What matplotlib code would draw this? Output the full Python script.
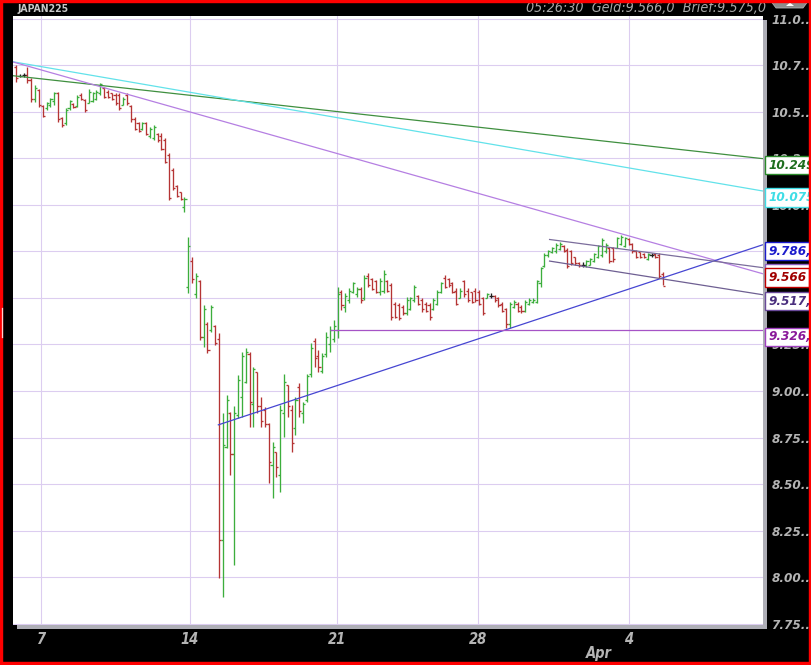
import numpy as np
import matplotlib
matplotlib.use("Agg")
import matplotlib.pyplot as plt
from matplotlib.patches import Rectangle, Polygon
from matplotlib.lines import Line2D
from matplotlib.transforms import blended_transform_factory
from matplotlib import font_manager

# ---------------- data (JAPAN225, 3-hour bars, prices in thousands) ----------------
opens = [10.74, 10.695, 10.70, 10.70, 10.67, 10.57, 10.62, 10.53, 10.52, 10.54,
         10.56, 10.60, 10.47, 10.44, 10.52, 10.545, 10.53, 10.59, 10.565, 10.55,
         10.56, 10.57, 10.60, 10.63, 10.61, 10.60, 10.59, 10.59, 10.54, 10.59,
         10.53, 10.46, 10.44, 10.41, 10.44, 10.37, 10.36, 10.38, 10.37, 10.35,
         10.27, 10.19, 10.10, 10.07, 9.99,
         9.56, 9.70, 9.52, 9.59, 9.29,
         9.36, 9.33, 9.35, 9.28, 8.20, 8.70, 8.88, 8.66, 8.87, 8.97,
         9.05, 9.20, 8.93, 9.10, 8.92, 8.90, 8.82, 8.60, 8.67, 8.55,
         8.88, 9.03, 8.90, 8.80, 9.02, 8.88, 8.95, 9.09, 9.27, 9.19,
         9.11, 9.20, 9.25, 9.28, 9.33,
         9.53, 9.45, 9.49, 9.53, 9.52,
         9.55, 9.50, 9.62, 9.60, 9.59, 9.53, 9.54, 9.59, 9.57, 9.47,
         9.46, 9.45, 9.42, 9.44, 9.49, 9.51, 9.49, 9.47, 9.46, 9.44,
         9.47, 9.53, 9.61, 9.60, 9.58, 9.54, 9.50, 9.59, 9.54, 9.53,
         9.54, 9.53, 9.50, 9.50, 9.51, 9.51, 9.50, 9.47, 9.44, 9.36,
         9.45, 9.47, 9.45, 9.43, 9.47, 9.48,
         9.48, 9.58, 9.67, 9.73,
         9.745, 9.75, 9.765, 9.78, 9.76, 9.75, 9.72, 9.69, 9.68, 9.675,
         9.68, 9.70, 9.72, 9.73, 9.75, 9.77, 9.77, 9.77, 9.79, 9.78,
         9.815, 9.79, 9.75, 9.745, 9.735, 9.71, 9.73, 9.735, 9.73, 9.63]

highs = [10.753, 10.704, 10.708, 10.744, 10.681, 10.645, 10.622, 10.537, 10.555, 10.574,
         10.609, 10.609, 10.475, 10.520, 10.564, 10.546, 10.591, 10.600, 10.568, 10.622,
         10.609, 10.618, 10.657, 10.636, 10.618, 10.604, 10.600, 10.600, 10.582, 10.600,
         10.537, 10.475, 10.448, 10.448, 10.448, 10.421, 10.430, 10.385, 10.385, 10.359,
         10.278, 10.197, 10.108, 10.071, 10.045,
         9.830, 9.719, 9.636, 9.597, 9.462,
         9.373, 9.462, 9.355, 9.310, 8.880, 8.979, 8.889, 8.919, 9.086, 9.211,
         9.230, 9.211, 9.131, 9.104, 8.969, 8.916, 8.826, 8.727, 8.674, 8.925,
         9.091, 9.032, 8.925, 8.969, 9.041, 8.943, 9.091, 9.256, 9.283, 9.220,
         9.203, 9.319, 9.349, 9.382, 9.561,
         9.543, 9.525, 9.552, 9.588, 9.561,
         9.561, 9.624, 9.633, 9.606, 9.597, 9.606, 9.650, 9.597, 9.579, 9.480,
         9.472, 9.462, 9.507, 9.507, 9.570, 9.516, 9.498, 9.480, 9.472, 9.498,
         9.543, 9.588, 9.624, 9.606, 9.588, 9.552, 9.552, 9.597, 9.552, 9.534,
         9.552, 9.543, 9.507, 9.525, 9.525, 9.516, 9.507, 9.480, 9.444, 9.480,
         9.489, 9.480, 9.462, 9.489, 9.498, 9.498,
         9.597, 9.668, 9.740, 9.758,
         9.776, 9.794, 9.803, 9.785, 9.767, 9.758, 9.722, 9.695, 9.695, 9.704,
         9.713, 9.740, 9.785, 9.821, 9.794, 9.776, 9.776, 9.830, 9.839, 9.830,
         9.821, 9.794, 9.758, 9.749, 9.740, 9.740, 9.740, 9.740, 9.740, 9.641]

lows = [10.660, 10.687, 10.690, 10.655, 10.555, 10.555, 10.528, 10.475, 10.511, 10.528,
        10.537, 10.448, 10.421, 10.432, 10.511, 10.520, 10.528, 10.564, 10.501, 10.546,
        10.555, 10.564, 10.591, 10.574, 10.574, 10.564, 10.537, 10.511, 10.537, 10.537,
        10.448, 10.403, 10.394, 10.403, 10.376, 10.359, 10.349, 10.340, 10.296, 10.224,
        10.027, 10.081, 10.045, 10.027, 9.964,
        9.525, 9.579, 9.498, 9.274, 9.238,
        9.203, 9.319, 9.248, 7.993, 7.894, 8.692, 8.548, 8.065, 8.853, 8.862,
        9.041, 8.808, 8.808, 8.880, 8.808, 8.808, 8.504, 8.423, 8.539, 8.459,
        8.754, 8.862, 8.674, 8.763, 8.862, 8.826, 8.943, 9.077, 9.131, 9.104,
        9.095, 9.184, 9.210, 9.263, 9.285,
        9.435, 9.426, 9.472, 9.525, 9.507,
        9.472, 9.489, 9.561, 9.543, 9.525, 9.516, 9.525, 9.534, 9.382, 9.391,
        9.382, 9.409, 9.409, 9.435, 9.480, 9.462, 9.426, 9.426, 9.382, 9.435,
        9.462, 9.525, 9.552, 9.561, 9.525, 9.462, 9.498, 9.507, 9.480, 9.472,
        9.480, 9.462, 9.409, 9.498, 9.498, 9.480, 9.453, 9.426, 9.337, 9.337,
        9.444, 9.426, 9.418, 9.426, 9.462, 9.472,
        9.472, 9.561, 9.668, 9.722,
        9.740, 9.740, 9.758, 9.749, 9.660, 9.677, 9.677, 9.668, 9.668, 9.668,
        9.677, 9.695, 9.713, 9.722, 9.740, 9.686, 9.695, 9.767, 9.785, 9.776,
        9.785, 9.740, 9.713, 9.713, 9.713, 9.704, 9.722, 9.713, 9.606, 9.570]

closes = [10.68, 10.695, 10.70, 10.67, 10.57, 10.63, 10.54, 10.48, 10.55, 10.57,
          10.60, 10.46, 10.43, 10.51, 10.56, 10.525, 10.58, 10.57, 10.51, 10.61,
          10.60, 10.61, 10.65, 10.58, 10.58, 10.57, 10.55, 10.52, 10.57, 10.55,
          10.46, 10.41, 10.40, 10.44, 10.38, 10.41, 10.42, 10.35, 10.30, 10.23,
          10.04, 10.09, 10.05, 10.03, 10.03,
          9.78, 9.60, 9.62, 9.29, 9.44,
          9.22, 9.45, 9.26, 8.20, 8.71, 8.95, 8.66, 8.88, 9.06, 9.19,
          9.21, 8.94, 9.12, 8.92, 8.84, 8.82, 8.62, 8.70, 8.59, 8.90,
          9.05, 8.92, 8.72, 8.95, 8.89, 8.93, 9.08, 9.23, 9.18, 9.13,
          9.19, 9.29, 9.33, 9.35, 9.52,
          9.46, 9.51, 9.54, 9.58, 9.55,
          9.49, 9.61, 9.57, 9.55, 9.53, 9.59, 9.63, 9.54, 9.40, 9.40,
          9.39, 9.42, 9.49, 9.50, 9.56, 9.47, 9.44, 9.43, 9.40, 9.49,
          9.53, 9.58, 9.56, 9.57, 9.53, 9.47, 9.54, 9.52, 9.49, 9.48,
          9.49, 9.47, 9.42, 9.52, 9.51, 9.49, 9.46, 9.43, 9.36, 9.47,
          9.48, 9.43, 9.43, 9.48, 9.49, 9.49,
          9.59, 9.66, 9.73, 9.75,
          9.77, 9.785, 9.79, 9.755, 9.67, 9.69, 9.69, 9.675, 9.68, 9.70,
          9.71, 9.735, 9.78, 9.81, 9.785, 9.70, 9.71, 9.82, 9.83, 9.82,
          9.79, 9.75, 9.72, 9.72, 9.72, 9.735, 9.73, 9.72, 9.62, 9.566]

# date ticks (bar index of first bar of the day) and labels
date_tick_pos = [6.64, 45.37, 83.84, 120.55, 160.04]
date_tick_labels = ["7", "14", "21", "28", "4"]
month_label = "Apr"
month_label_pos = 152.2

# price axis
price_ticks = [7.75, 8.00, 8.25, 8.50, 8.75, 9.00, 9.25, 9.50, 9.75, 10.00, 10.25, 10.50, 10.75, 11.00]
price_tick_labels = ["7.75...", "8.00...", "8.25...", "8.50...", "8.75...", "9.00...", "9.25...",
                     "9.50...", "9.75...", "10.0...", "10.2...", "10.5...", "10.7...", "11.0..."]

# trend lines: start bar index, start price, price at right edge
trend_start_idx = [-0.8, -0.8, -0.8, 52.7, 82.1, 139.2, 139.2]
trend_start_price = [10.695, 10.770, 10.769, 8.817, 9.3267, 9.815, 9.699]
trend_end_price = [10.249, 10.075, 9.630, 9.7866, 9.3267, 9.663, 9.5173]
trend_colors = ["#3f8f3f", "#62e2ea", "#b57fe2", "#4646d2", "#a653c6", "#7b6d9c", "#6e5f92"]

# value labels on the price scale
value_labels = ["9.668,1", "10.249", "10.075", "9.786,6", "9.566", "9.517,3", "9.326,7"]
value_label_y = [9.668, 10.249, 10.075, 9.786, 9.645, 9.517, 9.3267]
value_label_text_colors = ["#c03030", "#1e6e1e", "#3fdde6", "#1c1ccc", "#a00000", "#4a2f7e", "#8a1a9a"]
value_label_edge_colors = ["#8c5fc0", "#2a8a2a", "#3fdde6", "#1c1ccc", "#c00000", "#6a4a9a", "#a040c0"]

header_symbol = "JAPAN225"
header_quote = "05:26:30  Geld:9.566,0  Brief:9.575,0"

# ---------------- font selection ----------------
names = {f.name for f in font_manager.fontManager.ttflist}
cond_kw = {"family": "DejaVu Sans"}
if "Liberation Sans Narrow" in names:
    cond_kw = {"family": "Liberation Sans Narrow"}
elif any(f.name == "DejaVu Sans" and f.stretch == "condensed" for f in font_manager.fontManager.ttflist):
    cond_kw = {"family": "DejaVu Sans", "stretch": "condensed"}
elif "Roboto Condensed" in names:
    cond_kw = {"family": "Roboto Condensed"}

# ---------------- figure ----------------
W, H = 812, 665
def fx(px):
    return px / W
def fy(py):
    return 1 - py / H

fig = plt.figure(figsize=(W / 100, H / 100), dpi=100, facecolor="black")

# shadow behind plot area
fig.add_artist(Rectangle((fx(17), fy(629)), fx(767) - fx(17), fy(20) - fy(629),
                         transform=fig.transFigure, facecolor="#aeaeb6", edgecolor="none", zorder=-1))

ax = fig.add_axes([fx(13), fy(625), fx(763) - fx(13), fy(16) - fy(625)])
ax.set_facecolor("white")
for s in ax.spines.values():
    s.set_visible(False)

x_left, x_right = -0.78, 195.1
ax.set_xlim(x_left, x_right)
ax.set_ylim(7.742, 11.016)

# grid
ax.set_yticks(price_ticks)
ax.set_yticklabels(price_tick_labels)
ax.set_xticks(date_tick_pos)
ax.set_xticklabels(date_tick_labels)
ax.grid(True, color="#dccdf0", lw=0.8, zorder=0)
ax.set_axisbelow(True)

ax.yaxis.tick_right()
ax.tick_params(axis="y", length=0, pad=6, labelcolor="#b4b4b4", labelsize=9.6)
ax.tick_params(axis="x", length=0, pad=5, labelcolor="#b4b4b4", labelsize=10.5)
for lab in ax.get_yticklabels() + ax.get_xticklabels():
    lab.set_fontstyle("italic")
    lab.set_fontweight("bold")
    lab.set_family(cond_kw["family"])
    if "stretch" in cond_kw:
        lab.set_fontstretch(cond_kw["stretch"])

# OHLC bars
n = min(len(opens), len(highs), len(lows), len(closes))
idx = np.arange(n)
o = np.array(opens[:n]); h = np.array(highs[:n]); l = np.array(lows[:n]); c = np.array(closes[:n])
cols = np.where(c > o, "#3cae3c", np.where(c < o, "#b53434", "#202020"))
ax.vlines(idx, l, h, colors=cols, lw=0.95, zorder=3)
ax.hlines(o, idx - 0.55, idx, colors=cols, lw=0.95, zorder=3)
ax.hlines(c, idx, idx + 0.55, colors=cols, lw=0.95, zorder=3)

# trend lines
for xs, ps, pe, col in zip(trend_start_idx, trend_start_price, trend_end_price, trend_colors):
    ax.plot([xs, x_right], [ps, pe], color=col, lw=0.9, zorder=4, solid_capstyle="butt")

# value labels on the scale
bt = blended_transform_factory(ax.transAxes, ax.transData)
for i, (txt, yv, tc, ec) in enumerate(zip(value_labels, value_label_y,
                                           value_label_text_colors, value_label_edge_colors)):
    ax.text(1.0067, yv, txt, transform=bt, ha="left", va="top", clip_on=False,
            fontsize=9.6, color=tc, fontweight="bold", fontstyle="italic",
            bbox=dict(boxstyle="square,pad=0.2", fc="white", ec=ec, lw=1.0),
            zorder=10 + i, **cond_kw)

# month label
ax.text(month_label_pos, -0.047, month_label, transform=blended_transform_factory(ax.transData, ax.transAxes),
        ha="center", va="center", color="#b4b4b4", fontsize=10.5, fontstyle="italic",
        fontweight="bold", clip_on=False, **cond_kw)

# header
fig.text(fx(18), fy(9), header_symbol, color="#c8c8c8", fontsize=7.5, va="center", ha="left",
         fontweight="bold", **cond_kw)
fig.text(fx(766), fy(8), header_quote, color="#a8a8a8", fontsize=10.3, va="center", ha="right",
         fontstyle="italic", **cond_kw)

# small scroll tab at top right
fig.add_artist(Polygon([(fx(770), fy(0)), (fx(809), fy(0)), (fx(803), fy(8)), (fx(776), fy(8))],
                       closed=True, transform=fig.transFigure, facecolor="#8c8c8c",
                       edgecolor="#b0b0b0", lw=0.6, zorder=5))
fig.add_artist(Polygon([(fx(786), fy(6)), (fx(790), fy(2.5)), (fx(794), fy(6))],
                       closed=True, transform=fig.transFigure, facecolor="white",
                       edgecolor="none", zorder=6))

# red frame
fig.add_artist(Rectangle((0, 0), 1, 1, transform=fig.transFigure, fill=False,
                         edgecolor="#ff0000", lw=4.6, zorder=20))
fig.add_artist(Line2D([fx(2.2), fx(2.2)], [fy(308), fy(337)], transform=fig.transFigure,
                      color="#ffd0d0", lw=0.9, zorder=21))

fig.savefig("out.png", dpi=100, facecolor="black")
